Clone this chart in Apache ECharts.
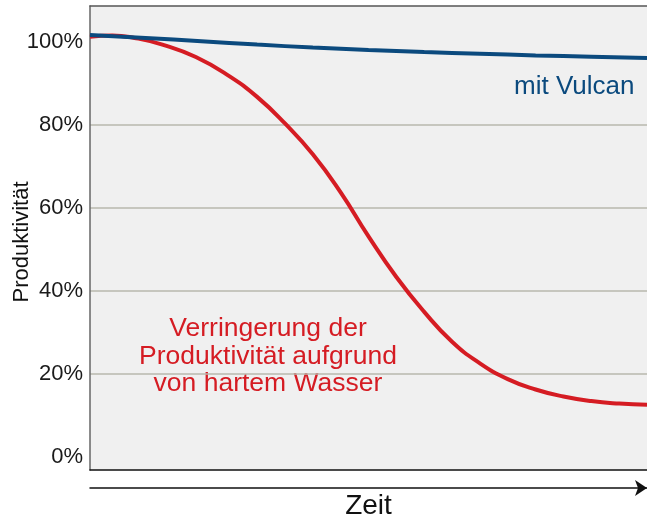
<!DOCTYPE html>
<html>
<head>
<meta charset="utf-8">
<script src="https://cdn.jsdelivr.net/npm/echarts@6/dist/echarts.min.js"></script>
<style>
  html, body { margin: 0; padding: 0; background: #fff; }
  #main { width: 647px; height: 521px; }
</style>
</head>
<body>
<div id="main"></div>
<script>
// time runs 0..100 across the plot, productivity in percent
const timeSteps = [0, 10, 20, 30, 40, 50, 60, 70, 80, 90, 100];
const vulcanValues = [101.7, 101.0, 100.2, 99.4, 98.7, 98.1, 97.6, 97.2, 96.8, 96.5, 96.2];

const hardWaterTime = [0, 4, 8, 13, 19, 25, 30, 35, 40, 45, 50, 55, 60, 65, 70, 75, 80, 85, 90, 95, 100];
const hardWaterValues = [101.3, 101.6, 101.0, 99.4, 96.4, 91.8, 86.8, 80.4, 73.0, 63.8, 53.2,
  43.4, 35.0, 27.8, 22.6, 18.8, 16.3, 14.6, 13.5, 12.9, 12.6];

const yLabelValues = [0, 20, 40, 60, 80, 100];
const gridValues = [20, 40, 60, 80];

const FONT = 'Liberation Sans';
const BLUE = '#0b4a7e';
const RED = '#d51c23';

const vulcanData = timeSteps.map((t, i) => [t, vulcanValues[i]]);
const hardWaterData = hardWaterTime.map((t, i) => [t, hardWaterValues[i]]);

const hiddenAxis = {
  axisTick: { show: false }, axisLabel: { show: false }, splitLine: { show: false }
};

const chart = echarts.init(document.getElementById('main'));
chart.setOption({
  animation: false,
  backgroundColor: '#fff',
  grid: {
    left: 90, right: 0, top: 6, bottom: 51,
    outerBoundsMode: 'none', containLabel: false,
    show: true, backgroundColor: '#f0f0f0', borderWidth: 0
  },
  xAxis: [
    Object.assign({
      type: 'value', min: 0, max: 100, position: 'bottom',
      axisLine: { show: true, onZero: false, lineStyle: { color: '#111', width: 1.5 } }
    }, hiddenAxis),
    Object.assign({
      type: 'value', min: 0, max: 100, position: 'top',
      axisLine: { show: true, onZero: false, lineStyle: { color: '#555', width: 1.5 } }
    }, hiddenAxis),
    Object.assign({
      type: 'value', min: 0, max: 100, position: 'bottom', offset: 18,
      axisLine: { show: true, onZero: false, symbol: ['none', 'arrow'], symbolSize: [12, 12],
        lineStyle: { color: '#111', width: 1.5 } },
      name: 'Zeit', nameLocation: 'middle', nameGap: 4,
      nameTextStyle: { fontFamily: FONT, fontSize: 28, color: '#111' }
    }, hiddenAxis)
  ],
  yAxis: {
    type: 'value', min: -3.1, max: 108.7,
    axisLine: { show: true, onZero: false, lineStyle: { color: '#666', width: 1.5 } },
    axisTick: { show: false, customValues: gridValues },
    axisLabel: {
      customValues: yLabelValues, formatter: '{value}%', margin: 7,
      fontFamily: FONT, fontSize: 22, color: '#1a1a1a'
    },
    splitLine: { show: true, lineStyle: { color: '#b8b8ae', width: 1.5 } },
    name: 'Produktivität', nameLocation: 'middle', nameGap: 57, nameMoveOverlap: false,
    nameTextStyle: { fontFamily: FONT, fontSize: 22, color: '#111', padding: [0, 8, 0, 0] }
  },
  series: [
    {
      name: 'mit Vulcan', type: 'line', data: vulcanData, smooth: true,
      showSymbol: false, lineStyle: { color: BLUE, width: 4 }, z: 3
    },
    {
      name: 'Verringerung', type: 'line', data: hardWaterData, smooth: true,
      showSymbol: false, lineStyle: { color: RED, width: 4 }, z: 2
    }
  ],
  graphic: [
    {
      type: 'text', left: 514, top: 74,
      style: { text: 'mit Vulcan', fontFamily: FONT, fontSize: 26, fill: BLUE }
    },
    {
      type: 'text', x: 268, y: 315,
      style: {
        text: 'Verringerung der\nProduktivität aufgrund\nvon hartem Wasser',
        fontFamily: FONT, fontSize: 26.5, lineHeight: 27.5, fill: RED,
        align: 'center', verticalAlign: 'top'
      }
    }
  ]
});
</script>
</body>
</html>
